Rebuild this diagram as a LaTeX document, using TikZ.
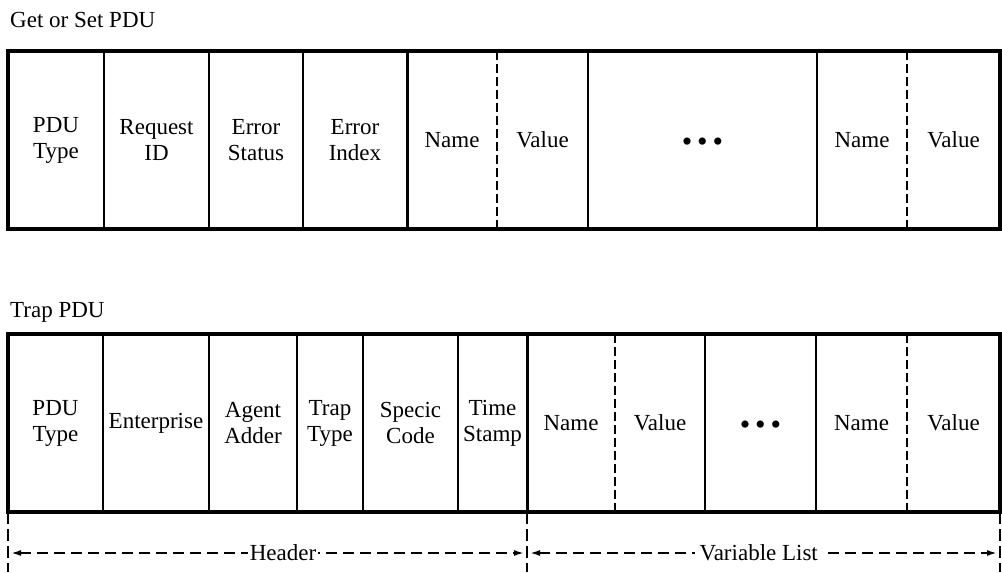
\documentclass[tikz,border=0pt]{standalone}
\usepackage{fontspec}
\setmainfont{Liberation Serif}
\usepackage{tikz}
\usetikzlibrary{arrows.meta, positioning, calc}
\tikzset{
	every node/.style={
		align=center,
	},
}
\newcommand{\fieldfont}{\fontsize{23}{26}\selectfont}
\newcommand{\moredots}{\raisebox{-11pt}[0pt][0pt]{\fontsize{30}{30}\selectfont\textbullet\,\textbullet\,\textbullet}}
\tikzstyle{field} = [rectangle, draw=none, minimum height=178pt, inner sep=0pt, outer sep=0pt, font=\fieldfont]
\tikzstyle{caption-text} = [draw=none, inner sep=0pt, anchor=base west, font=\fieldfont]
\tikzstyle{frame} = [line width=3.2pt, black]
\tikzstyle{major-div} = [line width=3pt, black]
\tikzstyle{minor-div} = [line width=1.8pt, black]
\tikzstyle{pair-div} = [line width=2.2pt, black, dash pattern=on 9pt off 4pt]
\tikzstyle{extent-tick} = [line width=1.8pt, black, dash pattern=on 12pt off 5pt]
\tikzstyle{extent} = [{Latex[length=10pt,width=6pt]}-{Latex[length=10pt,width=6pt]}, line width=1.8pt, black, dash pattern=on 11pt off 6pt, shorten <=3pt, shorten >=3pt]

\begin{document}
\begin{tikzpicture}[x=1pt, y=-1pt]
    \useasboundingbox (0,0) rectangle (1002,573);

    % get / set
    \node (gtitle) [caption-text] at (10,27) {Get or Set PDU};
    \node (g1) [field, minimum width=96pt, anchor=north west] at (8,51) {PDU\\Type};
    \node (g2) [field, minimum width=105pt, right=0pt of g1] {Request\\ID};
    \node (g3) [field, minimum width=94pt, right=0pt of g2] {Error\\Status};
    \node (g4) [field, minimum width=104pt, right=0pt of g3] {Error\\Index};
    \node (g5) [field, minimum width=90pt, right=0pt of g4] {Name};
    \node (g6) [field, minimum width=91pt, right=0pt of g5] {Value};
    \node (g7) [field, minimum width=229pt, right=0pt of g6] {\moredots};
    \node (g8) [field, minimum width=90pt, right=0pt of g7] {Name};
    \node (g9) [field, minimum width=93pt, right=0pt of g8] {Value};

    \foreach \f in {g1,g2,g3,g6,g7}
        \draw[minor-div] (\f.north east) -- (\f.south east);
    \draw[major-div] (g4.north east) -- (g4.south east);
    \draw[pair-div] (g5.north east) -- (g5.south east);
    \draw[pair-div] (g8.north east) -- (g8.south east);
    \draw[frame] (g1.north west) rectangle (g9.south east);

    % trap
    \node (ttitle) [caption-text] at (10,317) {Trap PDU};
    \node (t1) [field, minimum width=95pt, anchor=north west] at (8,334) {PDU\\Type};
    \node (t2) [field, minimum width=106pt, right=0pt of t1] {Enterprise};
    \node (t3) [field, minimum width=88pt, right=0pt of t2] {Agent\\Adder};
    \node (t4) [field, minimum width=66pt, right=0pt of t3] {Trap\\Type};
    \node (t5) [field, minimum width=95pt, right=0pt of t4] {Specic\\Code};
    \node (t6) [field, minimum width=69pt, right=0pt of t5] {Time\\Stamp};
    \node (t7) [field, minimum width=88pt, right=0pt of t6] {Name};
    \node (t8) [field, minimum width=90pt, right=0pt of t7] {Value};
    \node (t9) [field, minimum width=111pt, right=0pt of t8] {\moredots};
    \node (t10) [field, minimum width=91pt, right=0pt of t9] {Name};
    \node (t11) [field, minimum width=93pt, right=0pt of t10] {Value};

    \foreach \f in {t1,t2,t3,t4,t5,t8,t9}
        \draw[minor-div] (\f.north east) -- (\f.south east);
    \draw[major-div] (t6.north east) -- (t6.south east);
    \draw[pair-div] (t7.north east) -- (t7.south east);
    \draw[pair-div] (t10.north east) -- (t10.south east);
    \draw[frame] (t1.north west) rectangle (t11.south east);

    % header / variable list
    \coordinate (ka) at ([yshift=-60pt] t1.south west);
    \coordinate (kb) at ([yshift=-60pt] t6.south east);
    \coordinate (kc) at ([yshift=-60pt] t11.south east);
    \draw[extent-tick] (t1.south west) -- (ka);
    \draw[extent-tick] (t6.south east) -- (kb);
    \draw[extent-tick] (t11.south east) -- (kc);

    \coordinate (ha) at ([yshift=-41pt] t1.south west);
    \coordinate (hb) at ([yshift=-41pt] t6.south east);
    \coordinate (hc) at ([yshift=-41pt] t11.south east);
    \draw[extent] (ha) -- (hb) node (hdr) [pos=0.53, fill=white, inner sep=2pt, font=\fieldfont] {Header};
    \draw[extent] (hb) -- (hc) node (vars) [pos=0.49, fill=white, inner sep=5pt, font=\fieldfont] {Variable List};
\end{tikzpicture}
\end{document}
